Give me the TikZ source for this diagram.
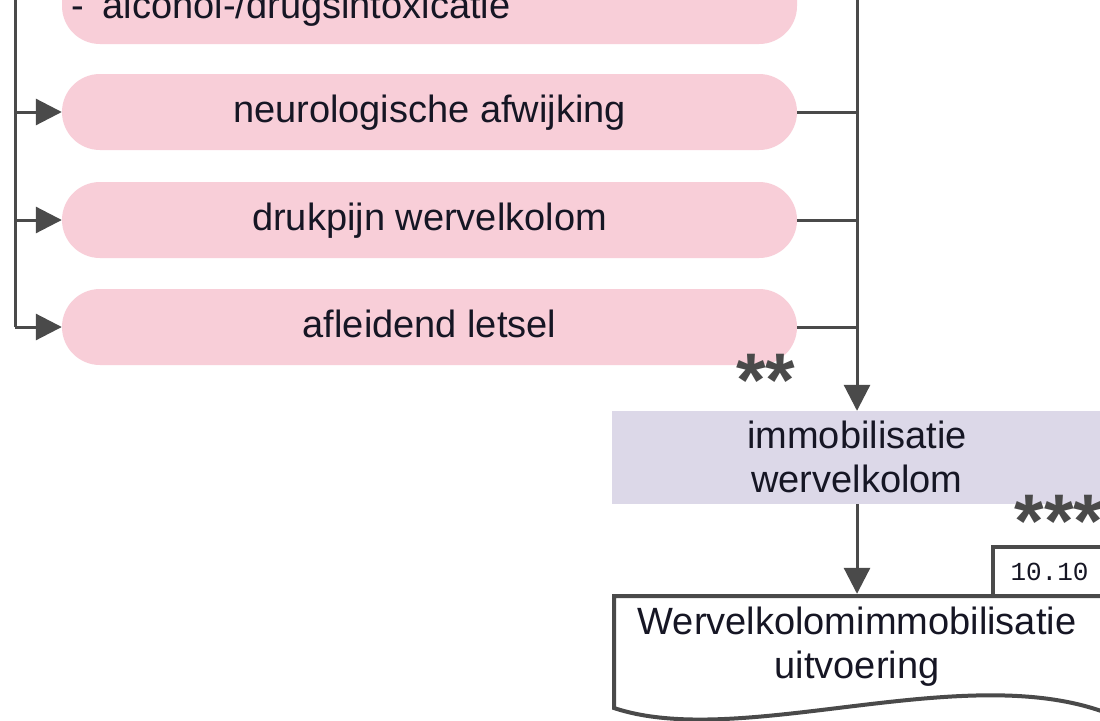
\documentclass[tikz,border=0pt]{standalone}
\usepackage{fontspec}
\setmainfont{Liberation Sans}
\newfontfamily\tagfont{Liberation Mono}
\usetikzlibrary{arrows.meta}
\definecolor{pinkfill}{HTML}{F8CED8}
\definecolor{lavfill}{HTML}{DCD8E8}
\definecolor{linegray}{HTML}{4A4A4A}
\definecolor{txt}{HTML}{161624}
\begin{document}
\begin{tikzpicture}[x=1pt,y=-1pt,
  mainfont/.style={font=\fontsize{38}{44}\selectfont, text=txt},
  pinkbox/.style={mainfont, fill=pinkfill, rounded corners=38pt, minimum width=735pt, minimum height=76pt, inner sep=0pt, text height=28pt, text depth=7pt},
  lavbox/.style={fill=lavfill, minimum width=490pt, minimum height=93pt, inner sep=0pt},
  conn/.style={line width=3pt, draw=linegray},
  arr/.style={conn, -{Triangle[length=26pt,width=26pt]}},
  stars/.style={font=\fontsize{76}{76}\selectfont\bfseries, text=linegray, inner sep=0pt, anchor=base},
  tagbox/.style={draw=linegray, line width=4pt, fill=white, minimum width=113pt, minimum height=49pt, inner sep=0pt, font=\tagfont\fontsize{26}{26}\selectfont, text=txt}
]
\useasboundingbox (0,0) rectangle (1100,720);
\clip (0,0) rectangle (1100,720);
\fill[white] (0,0) rectangle (1100,720);

% boxes
\node[pinkbox, minimum height=148pt] (b1) at (429.5,-30) {};
\node[mainfont, anchor=base west, inner sep=0pt] (b1t) at (71.5,18) {-\hspace{18.4pt}alcohol-/drugsintoxicatie};
\node[pinkbox] (b2) at (429.5,112) {neurologische afwijking};
\node[pinkbox] (b3) at (429.5,220) {drukpijn wervelkolom};
\node[pinkbox] (b4) at (429.5,327) {afleidend letsel};

\node[lavbox] (imm) at (857,457.5) {};
\node[mainfont, align=center, inner sep=0pt] (immt) at (857,457.4) {immobilisatie\\wervelkolom};

% document shape
\node[tagbox] (tag) at (1049.5,571.5) {10.10};
\draw[line width=4pt, draw=linegray, fill=white] (1104,712) -- (1104,596) -- (614,596) -- (614,708) .. controls (740,750) and (960,660) .. (1104,712);
\node[mainfont, align=center, inner sep=0pt, minimum height=105.4pt] (doc) at (857,646.7) {Wervelkolomimmobilisatie\\uitvoering};

\node[stars] (s2) at (766,406) {**};
\node[stars] (s3) at (1059,547) {***};

% left connectors
\coordinate (ltop) at (15,0);
\draw[conn] (ltop) -- (b4.west -| ltop);
\draw[arr] (b4.west -| ltop) -- (b4.west);
\draw[arr] (b2.west -| ltop) -- (b2.west);
\draw[arr] (b3.west -| ltop) -- (b3.west);

% right connectors
\coordinate (rtop) at (857,0);
\draw[arr] (rtop) -- (imm.north);
\draw[conn] (b2.east) -- (b2.east -| rtop);
\draw[conn] (b3.east) -- (b3.east -| rtop);
\draw[conn] (b4.east) -- (b4.east -| rtop);
\draw[arr] (imm.south) -- (doc.north);
\end{tikzpicture}
\end{document}
